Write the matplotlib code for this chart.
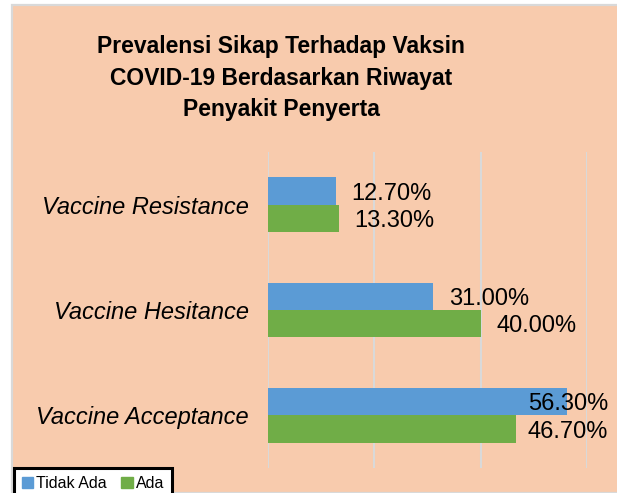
import matplotlib.pyplot as plt
import matplotlib.patches as mpatches

# ---------------------------------------------------------------------------
# Data
# ---------------------------------------------------------------------------
categories = ["Vaccine Acceptance", "Vaccine Hesitance", "Vaccine Resistance"]
tidak_ada = [56.3, 31.0, 12.7]
ada = [46.7, 40.0, 13.3]
series_names = ["Tidak Ada", "Ada"]

C_BLUE = "#5B9BD5"
C_GREEN = "#70AD47"
C_BG = "#F8CBAD"
C_GRID = "#D9D9D9"

plt.rcParams["font.family"] = ["Liberation Sans", "DejaVu Sans"]

W, H, DPI = 617, 493, 100
fig = plt.figure(figsize=(W / DPI, H / DPI), dpi=DPI)
fig.patch.set_facecolor("white")

# chart area background with thin grey border
bg = mpatches.Rectangle((11.5 / W, 0), 1 - 11.5 / W + 0.01, (H - 4.5) / H,
                        transform=fig.transFigure, facecolor=C_BG,
                        edgecolor=C_GRID, linewidth=1.6, zorder=-1)
fig.patches.append(bg)

# plot area in pixels: x 268..587, y 152..468
ax = fig.add_axes([268 / W, (H - 468) / H, (587 - 268) / W, (468 - 152) / H])
ax.set_facecolor("none")

y = list(range(len(categories)))
bh = 0.26
ax.barh([v + bh / 2 for v in y], tidak_ada, height=bh, color=C_BLUE,
        label=series_names[0], zorder=3)
ax.barh([v - bh / 2 for v in y], ada, height=bh, color=C_GREEN,
        label=series_names[1], zorder=3)

ax.set_xlim(0, 60)
ax.set_ylim(-0.5, len(categories) - 0.5)
ax.set_xticks([0, 20, 40, 60])
ax.xaxis.grid(True, color=C_GRID, linewidth=1.5, zorder=0)
ax.set_axisbelow(True)
ax.set_xticklabels([])
ax.tick_params(axis="x", length=0)
for s in ax.spines.values():
    s.set_visible(False)

ax.set_yticks(y)
ax.set_yticklabels(categories, fontsize=17, style="italic")
ax.tick_params(axis="y", length=0, pad=14)

# data labels: 16 px right of bar end, but kept inside the chart (right edge ~608 px)
fig.canvas.draw()
renderer = fig.canvas.get_renderer()
right_limit = 608
for vals, off in [(tidak_ada, bh / 2), (ada, -bh / 2)]:
    for yi, v in zip(y, vals):
        t = ax.annotate(f"{v:.2f}%", xy=(v, yi + off), xytext=(16 * 72 / DPI, -2),
                        textcoords="offset points", ha="left", va="center",
                        fontsize=17, color="black", zorder=5)
        bb = t.get_window_extent(renderer)
        if bb.x1 > right_limit:
            shift = (bb.x1 - right_limit) * 72 / DPI
            t.set_position((16 * 72 / DPI - shift, -2))

fig.text(281 / W, 1 - 78 / H,
         "Prevalensi Sikap Terhadap Vaksin\nCOVID-19 Berdasarkan Riwayat\nPenyakit Penyerta",
         ha="center", va="center", fontsize=16.5, fontweight="bold",
         linespacing=1.45)

handles = [mpatches.Patch(color=C_BLUE, label=series_names[0]),
           mpatches.Patch(color=C_GREEN, label=series_names[1])]
leg = fig.legend(handles=handles, loc="upper left",
                 bbox_to_anchor=(14 / W, 1 - 468 / H), ncol=2, fontsize=11.5,
                 frameon=True, fancybox=False, borderpad=0.5,
                 handlelength=0.7, handleheight=0.7, handletextpad=0.2,
                 columnspacing=0.9, borderaxespad=0)
leg.get_frame().set_edgecolor("black")
leg.get_frame().set_linewidth(2.2)
leg.get_frame().set_facecolor("white")
leg.get_frame().set_alpha(1)

fig.savefig("out.png", dpi=DPI)
